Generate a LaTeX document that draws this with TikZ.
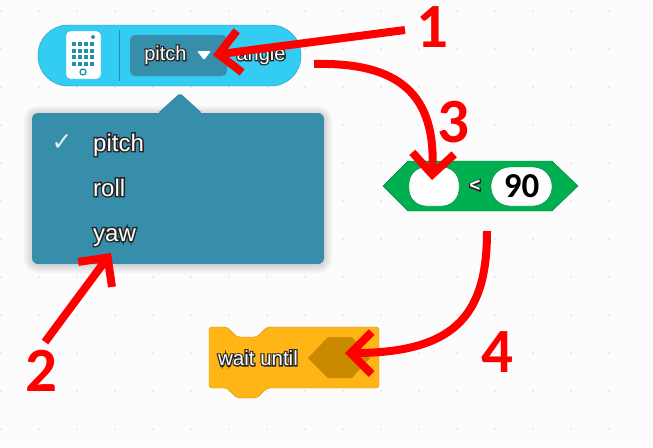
\documentclass[tikz,border=0pt]{standalone}
\usepackage{fontspec}
\setmainfont{Liberation Sans}
\newfontfamily\numfont{Carlito}
\newfontfamily\tickfont{DejaVu Sans}
\usetikzlibrary{arrows.meta}
\usetikzlibrary{calc}
\definecolor{blockblue}{HTML}{33CCF2}
\definecolor{menublue}{HTML}{368EAA}
\definecolor{blockgreen}{HTML}{00B050}
\definecolor{blockamber}{HTML}{FFB515}
\definecolor{slotamber}{HTML}{C98A00}
\definecolor{markred}{HTML}{FF0000}
% white letters on a slightly fatter dark copy
\newcommand{\halo}[1]{\rlap{\addfontfeature{FakeBold=12}\textcolor{black!85}{#1}}\textcolor{white}{#1}}
\tikzset{
  marker/.style={markred,line width=8pt,
    -{Straight Barb[length=21pt,width=42pt,line width=8pt]}},
  marknum/.style={text=markred,font=\numfont\bfseries\fontsize{63}{63}\selectfont,inner sep=0pt},
  blocktext/.style={font=\fontsize{20}{20}\selectfont,inner sep=0pt},
  menutext/.style={font=\fontsize{24}{24}\selectfont,inner sep=0pt,anchor=base west},
}
\begin{document}
\begin{tikzpicture}[x=1pt,y=-1pt]
\useasboundingbox (0,0) rectangle (653,447);
\fill[black!1] (0,0) rectangle (653,447);
% workspace dots
\foreach \i in {0,...,16}
  \foreach \j in {0,...,11}
    \fill[black!12] (1+38*\i,11+38*\j) circle (1pt);

% sensor block
\draw[fill=blockblue,draw=blockblue!75!black,rounded corners=30pt] (38,25) rectangle (301,86);
\draw[fill=white,draw=blockblue!85!black,rounded corners=4pt] (66,31) rectangle (101,79);
\foreach \i in {0,...,3}
  \foreach \j in {0,...,3}
    \fill[blockblue!70!black] (74+6*\i-2,44+6.6*\j-2) rectangle ++(4,4);
\fill[blockblue!70!black] (93,37) circle (2pt);
\draw[blockblue!70!black,line width=1.3pt] (83,72) circle (3pt);
\draw[blockblue!70!black,line width=1pt] (119,30) -- (119,81);
\fill[menublue,rounded corners=5pt] (130,35) rectangle (227,76);
\node[blocktext] (pitchlabel) at (165.5,55) {\halo{pitch}};
\fill[white,rounded corners=1pt] (197,51) -- (211,51) -- (204,60) -- cycle;
\node[blocktext] (anglelabel) at (261,55) {\halo{angle}};

% drop-down list
\foreach \w in {8,6,4,2}
  \fill[black,opacity=0.035,rounded corners=6pt+\w pt] (32-\w,114-\w) rectangle (324+\w,265+\w);
\fill[menublue,rounded corners=2pt] (158,113) -- (180,93) -- (202,113) -- cycle;
\fill[menublue,rounded corners=6pt] (32,113) rectangle (324,264);
\node[font=\tickfont\fontsize{25}{25}\selectfont,text=white!85!menublue,inner sep=0pt] (tick) at (62,143) {✓};
\node[menutext] (itempitch) at (93,151) {\halo{pitch}};
\node[menutext] (itemroll) at (93,196) {\halo{roll}};
\node[menutext] (itemyaw) at (93,241) {\halo{yaw}};

% compare block
\draw[fill=blockgreen,draw=blockgreen!70!black] (383,186) -- (408,161) -- (552,161) -- (578,186) -- (552,211) -- (408,211) -- cycle;
\node[draw=blockgreen!70!black,fill=white,rounded corners=17pt,minimum width=50pt,minimum height=39pt,inner sep=0pt] (slotleft) at (434,186.5) {};
\node[blocktext,font=\bfseries\fontsize{19}{19}\selectfont] (lessthan) at (475,186) {\halo{<}};
\node[draw=blockgreen!70!black,fill=white,rounded corners=19pt,minimum width=61pt,minimum height=39pt,inner sep=0pt,font=\numfont\bfseries\fontsize{35}{35}\selectfont] (slotright) at (521.5,186.5) {90};

% wait block
\draw[fill=blockamber,draw=blockamber!80!black,rounded corners=3pt]
  (209,327) -- (227,327) -- (237,337) -- (257,337) -- (267,327) -- (379,327)
  -- (379,388) -- (267,388) -- (257,398) -- (237,398) -- (227,388) -- (209,388) -- cycle;
\fill[slotamber] (308,358) -- (328,337) -- (352,337) -- (370,358) -- (352,378) -- (328,378) -- cycle;
\node[blocktext,font=\fontsize{20.5}{20.5}\selectfont] (waitlabel) at (258,358) {\halo{wait until}};

% numbered markers
\coordinate (tailone) at (405,30);
\coordinate (tipone) at (213,55);
\coordinate (tailtwo) at (45,342);
\coordinate (tiptwo) at (111,253);
\coordinate (tailthree) at (314,64);
\coordinate (tipthree) at (432,180);
\coordinate (tailfour) at (487,231);
\coordinate (tipfour) at (345,353);
\draw[marker] (tailone) -- (tipone);
\draw[marker] (tailtwo) -- (tiptwo);
\draw[marker] (tailthree) .. controls (400,62) and (436,95) .. (tipthree);
\draw[marker] (tailfour) .. controls (487,310) and (460,353) .. (tipfour);
\node[marknum] (numone) at (432,27) {1};
\node[marknum] (numtwo) at (41,371) {2};
\node[marknum] (numthree) at (453,122) {3};
\node[marknum] (numfour) at (497,352) {4};
\end{tikzpicture}
\end{document}
